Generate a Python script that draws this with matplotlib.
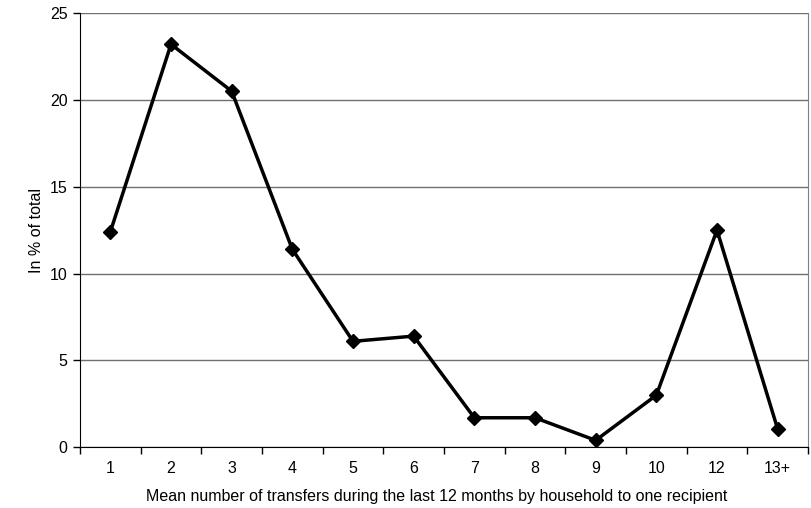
import numpy as np
import matplotlib
matplotlib.use("Agg")
from matplotlib import pyplot as plt

plt.rcParams['font.family'] = ['Liberation Sans', 'DejaVu Sans']

categories = ['1', '2', '3', '4', '5', '6', '7', '8', '9', '10', '12', '13+']
share = [12.4, 23.2, 20.5, 11.4, 6.1, 6.4, 1.7, 1.7, 0.4, 3.0, 12.5, 1.05]

fs = 11.5

fig = plt.figure(figsize=(8.12, 5.08), dpi=100)
ax = fig.add_axes([80 / 812, 1 - 447.3 / 508, 728 / 812, 434.3 / 508])

x = np.arange(len(categories))
ax.plot(x, share, color='black', linewidth=2.5, marker='D', markersize=7.2,
        zorder=3)

ax.set_xlim(-0.5, len(categories) - 0.5)
ax.set_ylim(0, 25)

# category labels sit between the boundary ticks
ax.set_xticks(np.arange(len(categories) + 1) - 0.5)
ax.set_xticklabels([])
ax.set_xticks(x, minor=True)
ax.set_xticklabels(categories, minor=True)
ax.tick_params(axis='x', which='major', direction='out', length=5, width=1,
               color='black')
ax.tick_params(axis='x', which='minor', length=0, pad=10, labelsize=fs)

ax.set_yticks([0, 5, 10, 15, 20, 25])
ax.tick_params(axis='y', direction='out', length=5, width=1, pad=4,
               labelsize=fs)

ax.yaxis.grid(True, color='#707070', linewidth=1)
ax.set_axisbelow(True)

ax.spines['left'].set_color('black')
ax.spines['bottom'].set_color('black')
ax.spines['top'].set_visible(False)
ax.spines['right'].set_color('#808080')

ax.set_xlabel('Mean number of transfers during the last 12 months by household to one recipient',
              fontsize=fs, labelpad=8)
ax.xaxis.set_label_coords(0.49, -0.095)
ax.set_ylabel('In % of total', fontsize=fs, labelpad=4)

fig.savefig('out.png', dpi=100)
